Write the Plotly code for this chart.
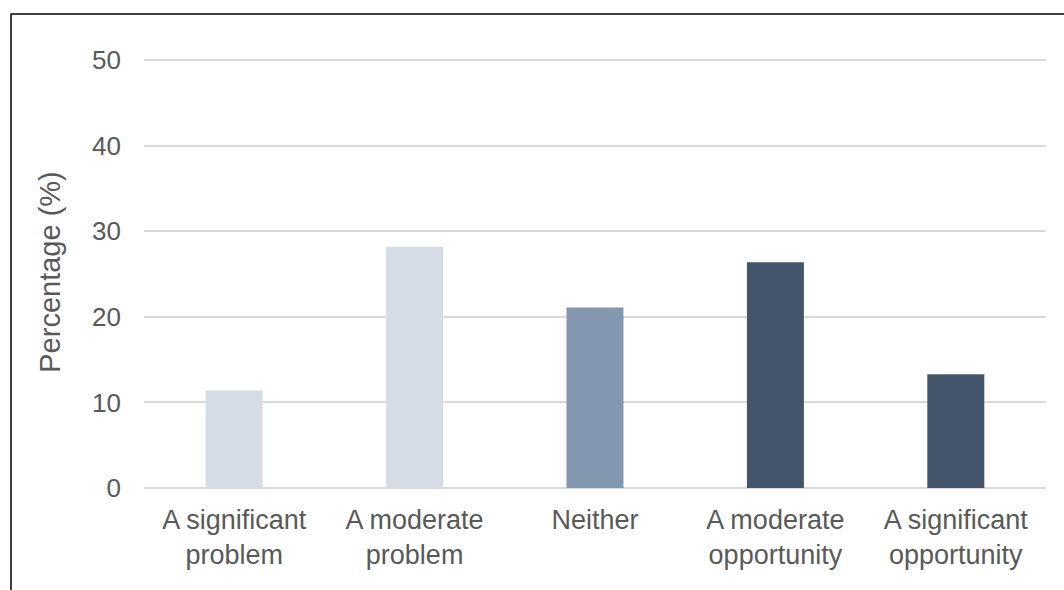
import plotly.graph_objects as go

categories = ["A significant<br>problem", "A moderate<br>problem", "Neither",
              "A moderate<br>opportunity", "A significant<br>opportunity"]
values = [11.4, 28.2, 21.1, 26.4, 13.3]
bar_colors = ["#D6DCE5", "#D6DCE5", "#8497B0", "#44546A", "#44546A"]
y_ticks = [0, 10, 20, 30, 40, 50]

W, H = 1064, 590
L, R, T, B = 144, 18, 56, 102
pw, ph = W - L - R, H - T - B

fig = go.Figure(go.Bar(x=categories, y=values, marker=dict(color=bar_colors, line=dict(width=0)),
                       hoverinfo="skip"))

def px_x(x):
    return (x - L) / pw

def px_y(y):
    return (H - B - y) / ph

fig.add_shape(type="line", xref="paper", yref="paper",
              x0=px_x(11), y0=px_y(600), x1=px_x(11), y1=px_y(14),
              line=dict(color="#000000", width=1.5))
fig.add_shape(type="line", xref="paper", yref="paper",
              x0=px_x(11), y0=px_y(14), x1=px_x(1070), y1=px_y(14),
              line=dict(color="#000000", width=1.5))

fig.update_layout(
    width=W, height=H,
    margin=dict(l=L, r=R, t=T, b=B, pad=0),
    paper_bgcolor="white", plot_bgcolor="white",
    bargap=0.684,
    showlegend=False,
    font=dict(family="Liberation Sans, Arial, sans-serif", color="#595959", size=26),
    xaxis=dict(showgrid=False, showline=False, zeroline=False, ticks="",
               ticklabelstandoff=13,
               tickfont=dict(size=27, color="#595959")),
    yaxis=dict(range=[0, 50.5], tickvals=y_ticks, showgrid=True, gridcolor="#D9D9D9", gridwidth=1.5,
               zeroline=True, zerolinecolor="#D9D9D9", zerolinewidth=1.5, showline=False,
               ticklabelstandoff=22, tickfont=dict(size=26, color="#595959"),
               title=dict(text="Percentage (%)", font=dict(size=29, color="#595959"), standoff=22)),
)

fig.write_html("out.html")
